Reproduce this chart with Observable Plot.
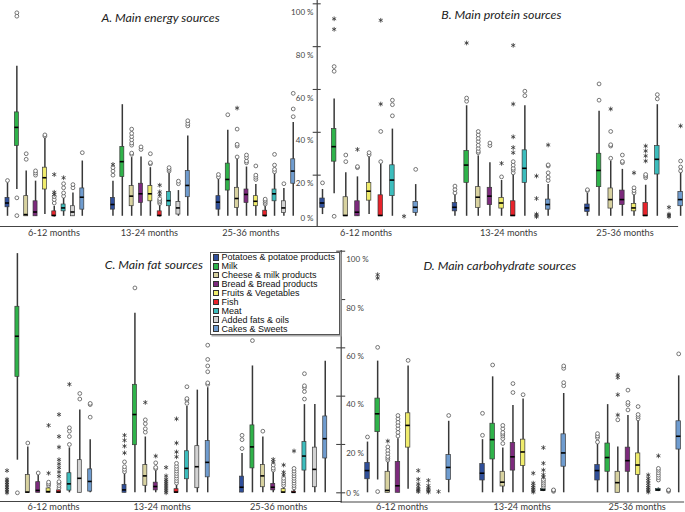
<!DOCTYPE html>
<html><head><meta charset="utf-8">
<script src="https://cdn.jsdelivr.net/npm/d3@7"></script>
<script src="https://cdn.jsdelivr.net/npm/@observablehq/plot@0.6"></script>
<style>
body{margin:0;background:#fff;}
#chart{position:relative;width:685px;height:512px;overflow:hidden;background:#fff;font-family:Lato,sans-serif;}
#chart svg{position:absolute;}
.legend{position:absolute;left:210px;top:252px;width:130px;height:83px;border:1px solid #555;background:#fff;box-shadow:1.5px 1.5px 0 #aaa;font-family:"Liberation Sans",Arial,sans-serif;font-size:9px;color:#111;padding:0 0 0 1.5px;box-sizing:border-box;}
.legend div{display:flex;align-items:center;height:8.9px;white-space:nowrap;}
.legend span.sw{width:6.5px;height:6.5px;border:1px solid #333;margin-right:2.5px;box-sizing:border-box;flex:none;}
</style></head>
<body><div id="chart"></div>
<script>
const categories = ["Potatoes & potatoe products","Milk","Cheese & milk products","Bread & Bread products","Fruits & Vegetables","Fish","Meat","Added fats & oils","Cakes & Sweets"];
const ageGroups = ["6-12 months","13-24 months","25-36 months"];
const categoryColors = ["#2f4f9b","#2fb34a","#d8d2a0","#7d2a7d","#f0ec6c","#e8232b","#3cbdbd","#d3d3d3","#6f9ccf"];
const yTicks = [0,20,40,60,80,100];

// [low whisker, Q1, median, Q3, high whisker] in % ; rows: age group, then category
const energyBoxes = [
 [[0.8,5.0,7.0,9.4,16.4],[13.3,33.6,42.3,49.3,70.9],[0.8,0.8,1.6,10.2,21.9],[0.8,0.8,2.8,7.8,17.2],[1.6,13.3,18.8,23.5,37.6],[0.5,0.8,1.2,3.1,5.5],[0.8,3.1,4.7,6.3,9.4],[0.8,0.8,2.8,5.5,11.7],[0.8,3.9,9.7,13.8,26.6]],
 [[0.8,3.9,6.3,9.4,17.2],[0.8,19.1,26.3,33.2,52.9],[0.8,5.5,10.2,14.9,28.2],[0.8,7.0,11.3,16.0,28.5],[0.8,7.8,11.3,14.9,23.5],[0.5,0.8,1.2,3.1,6.0],[0.8,5.5,8.1,12.2,21.6],[0.8,1.6,4.7,7.5,12.8],[0.8,9.7,15.2,21.9,38.3]],
 [[0.8,3.9,7.4,10.2,18.0],[0.8,12.8,18.0,25.4,41.0],[0.8,4.7,9.1,14.1,27.4],[0.8,7.0,11.0,13.3,23.8],[0.8,5.5,7.8,10.2,15.6],[0.5,0.8,1.2,3.4,6.0],[0.8,7.8,11.3,13.3,21.1],[0.8,2.3,4.7,7.8,13.8],[0.8,16.0,21.9,27.4,44.6]]
];
const energyCircles = [
 [0,0,[17.5]],[0,1,[95.8,94.2,9.4,1.1]],[0,2,[27.4,30]],[0,3,[20,21,22]],[0,4,[38.2,38.8]],[0,5,[7,8.6,10]],[0,6,[10.2,11.7,14.1,16]],[0,7,[14.1,15.6]],[0,8,[30.5]],
 [1,0,[20,21.9,23.5]],[1,2,[29.7,30.3,34,35,36.5,38,39.5,41.5]],[1,3,[32,33.2]],[1,4,[25.3,25.8,30]],[1,5,[6.8,7.5,8.2,9]],[1,6,[21.9,22.7,23.5]],[1,7,[16,17.2]],[1,8,[43,44.1,45.4]],
 [2,0,[19.1,20.3]],[2,1,[48.2]],[2,2,[28.5,33.6,34.4,41.5]],[2,3,[25.8,26.6,28.2,29.4]],[2,4,[18,19,20,24.3]],[2,5,[6.5,7.3,8.1,8.8]],[2,6,[21.6,22.7,24.7,29.7]],[2,7,[16]],[2,8,[47.3,50.9,58.2]]
];
const energyStars = [[0,5,[11,12,20.3]],[0,6,[18.8]],[1,0,[25]],[1,5,[10.8,12.2,15.3]],[2,2,[51.3]]];

const proteinBoxes = [
 [[1.6,4.7,7.0,9.1,13.3],[11.3,26.3,33.3,41.5,55.6],[0.8,0.8,1.2,9.7,21.1],[0.8,0.8,2.7,7.8,19.2],[1.6,8.1,12.5,16.4,28.5],[0.8,0.8,1.2,10.6,25.0],[0.8,10.2,17.7,24.6,41.5],null,[0.8,2.3,5.0,7.5,15.6]],
 [[0.8,3.1,5.0,7.0,11.0],[0.8,16.4,24.7,31.3,52.4],[0.8,4.7,9.7,14.4,29.0],[0.8,6.0,10.2,14.1,25.8],[0.8,4.4,7.0,9.4,17.5],[0.8,0.8,1.2,7.8,20.3],[0.8,16.4,23.2,31.6,52.4],null,[0.8,3.9,6.3,8.6,15.6]],
 [[0.8,2.8,4.7,6.3,11.5],[0.8,14.4,22.2,30.0,49.8],[0.8,4.4,8.6,13.8,26.6],[0.8,6.0,8.6,12.8,22.7],[0.8,3.1,4.7,6.6,11.0],[0.8,0.8,1.2,7.0,15.3],[0.8,20.3,27.4,33.6,52.9],null,[0.8,5.5,8.6,12.2,21.1]]
];
const proteinCircles = [
 [0,0,[16.4]],[0,1,[0.8,68.5,70.7]],[0,2,[26.3,29.4]],[0,3,[23.5,24]],[0,4,[29.5,30.5]],[0,5,[26.3,40.4]],[0,6,[47.7,52.9,55]],[0,8,[22.7]],
 [1,0,[11.7,13.3,14.9]],[1,1,[54.5,56]],[1,2,[30.5,31.2,32.5,34,35.7,37.2,38.8,40.4]],[1,3,[33.8,35]],[1,4,[19.2]],[1,5,[21.1,22.4,23.2,24.7,26.3]],[1,6,[57.1,59.2]],[1,8,[17.5,19.1,21.1,24.3,24.8]],
 [2,0,[12.8,13.2]],[2,1,[55,62.6]],[2,2,[27.9,33.6,34.2,40.4]],[2,3,[25.8,26.4,29.4]],[2,4,[11.7,12.8,14.1]],[2,5,[18.8,19.6,20.3]],[2,6,[55.6,57.6]],[2,8,[22,23.8,26.6]]
];
const proteinStars = [
 [0,1,[88.1,93]],[0,3,[32]],[0,5,[53.2,92.3]],[0,7,[0.8]],
 [1,1,[81.7]],[1,4,[25.5]],[1,5,[30.5,32.9,37.9,53.2,80.6]],[1,7,[0.6,1.2,1.8,9.1,19.6]],[1,8,[34.1]],
 [2,2,[50.9]],[2,4,[21.1]],[2,5,[26.6,29,31.3,33.6]],[2,7,[0.6,1.2,1.8,5]],[2,8,[43]]
];

const fatBoxes = [
 [null,[13.5,48,64.8,77,99],[0,0,0.3,7.4,19],[0,0,1,4.4,7.2],[0,0,0.5,1.8,2.5],[0,0,0.3,1,1.5],[0,0.9,3.7,8.1,18.6],[0,0,6,13.5,34.3],[0,0.5,4.7,9.7,22]],
 [[0,0,1.2,3.3,8],[0,19.7,32.4,44.7,74.3],[0,2.9,7,11.5,23.1],[0,1,2.6,4.2,9.4],null,[0,0,0.3,1.5,3.5],[0,5.6,10.1,17.2,35.7],[0,1.9,10.8,19.3,42.5],[0,6.4,12.6,21.4,43.5]],
 [[0,0.1,2.3,6.7,16.3],[0,10.1,19,27.9,52.5],[0,2.3,7,11.5,23.1],[0,1,2.3,3.7,8.5],[0,0,0.3,1.5,2.5],[0,0,0.2,0.5,1.5],[0,9.2,15.2,21,36.5],[0,2.3,9.7,18.7,36.5],[0,14.2,22.4,31.6,54.5]]
];
const fatCircles = [
 [0,1,[0]],[0,2,[20.6]],[0,3,[8.2]],[0,4,[3,3.7,4.4]],[0,5,[2,3,4,4.6]],[0,6,[20,23.3,25.5,26.9]],[0,7,[38.8,41.1]],[0,8,[31.3,36.5,37]],
 [1,0,[8.7,9.7,10.8,12.8]],[1,1,[84.8]],[1,2,[25.1,26.5,28.6,30.2]],[1,3,[10,10.5,12.4]],[1,5,[4,5,6,7,8,9,10,11,12.2]],[1,6,[37,38.4,39,43.9]],[1,8,[44.9,45.5,50.1,52.5,55.2,61.1]],
 [2,0,[18.3,22,23.8]],[2,1,[63]],[2,2,[25.5]],[2,3,[9.4,10.2,11.5]],[2,4,[3,4,5,6]],[2,5,[2,3,4,5,6,7,8,9,10.1]],[2,6,[38.8,41.9,43.5,44.3,49.3]]
];
const fatStars = [
 [0,0,[0,0.7,1.4,2.1,2.8,3.5,4.2,4.9,5.6,9.2]],[0,4,[8.1,27.9]],[0,5,[6.8,8.6,10.4,12,13.7,18.9,23.3,32.4]],[0,6,[44.9]],
 [1,0,[16.5,19.3,21.7,23.8]],[1,2,[37.4]],[1,3,[15.2]],[1,4,[0,0.8,1.6,2.4,3.2,4,4.8,5.6,7,10.5]],[1,5,[14.9,16.9,20.6,30.6]],
 [2,3,[12.8,13.8]],[2,4,[7.4,8.5,11.5]],[2,5,[17.3]]
];

const carbBoxes = [
 [[0,5.6,9.2,12.4,21],[5.3,25.1,32.7,39,54.5],[0,0,1,8.7,13],[0,0,2.9,12.8,22.4],[1.5,18.7,27.9,32.9,52.5],null,null,null,[0,5.3,10.5,15.6,29.6]],
 [[0,5.1,8.1,11.9,22],[0,13.8,22,28.6,48],[0,2.6,4.4,8.7,18.5],[0,9.2,14.9,20.6,36.1],[0,11.1,16.9,22,38.8],null,[0.5,0.8,1.2,1.6,2],null,[0,10.8,16.5,24.2,41.1]],
 [[0,5.1,9.2,11.5,20],[0,8.7,14.6,20.4,36.5],[0,0,4.2,8.7,19],[0,8.7,13.3,18.7,32],[0,7.4,11.5,16.3,30],null,[0.5,0.8,1.2,1.6,2],null,[0,17.9,23.4,29.6,48.4]]
];
const carbCircles = [
 [0,0,[23.1]],[0,1,[0.5,60.2]],[0,2,[13.5,14.3,15,16.3,17.6,19]],[0,3,[23.5,25,26.5,27.9,29.2,30.6,32]],[0,4,[54.8]],[0,8,[32]],
 [1,0,[23.8,32.9]],[1,1,[52.9]],[1,2,[20.4,22.4,23.5,24.3,25,26.5,27.9]],[1,3,[41.5,45.2]],[1,4,[40.6]],[1,6,[2.5,3.2,4,4.8,5.5]],[1,7,[0.6,1,1.2]],[1,8,[44.3,45.6,51.5,52.5]],
 [2,0,[21,22.8,23.5,24.5]],[2,2,[30.2]],[2,3,[34.3,36.5,37.4,42.5]],[2,4,[30.6,31.6,32.4,35.7]],[2,6,[5.3,6.3,7.3,8.3,9.3,10.1]],[2,7,[0.6,1,1.2]],[2,8,[57.5]]
];
const carbStars = [
 [0,1,[88.9,90.3]],[0,2,[21.4]],[0,5,[0.5,1,1.5,2.5,3.7,5.6,9.2]],[0,6,[0.3,0.8,1.4,2,3,5.1]],[0,7,[0.5]],
 [1,5,[0.3,0.8,1.5,2.2,3,4,8.1]],[1,6,[6.5,7.5,9.4,12.2,18.7]],
 [2,2,[32.2,40.6,47.7,48.8]],[2,5,[0.3,0.8,1.5,2.2,3,4,5,6,7.4]],[2,6,[15.3]]
];

function drawPanel(o) {
  const g = o.groupUnits;
  const pos = (a, c) => a * g + c;
  const hw = o.boxPx / 2 / o.step;
  const boxes = [];
  o.boxes.forEach((row, a) => row.forEach((s, c) => {
    if (!s) return;
    const p = pos(a, c);
    boxes.push({p, p1: p - hw, p2: p + hw, low: s[0], q1: s[1], med: s[2], q3: s[3], high: s[4], cat: categories[c]});
  }));
  const flat = list => list.flatMap(([a, c, vals]) => vals.map(v => ({p: pos(a, c), v})));
  const circles = flat(o.circles), stars = flat(o.stars);
  const k = (o.y0 - o.y100) / 100;
  const yDomain = [(o.y0 - (o.height - o.mb)) / k, (o.y0 - o.mt) / k];
  const xDomain = [(o.ml - o.x0) / o.step, (o.width - o.mr - o.x0) / o.step];
  const centers = ageGroups.map((_, a) => pos(a, 4) + o.labelShift[a] / o.step);
  const marks = [
    Plot.frame({anchor: "bottom", stroke: "#444", strokeWidth: 1.2}),
    Plot.ruleX(boxes, {x: "p", y1: "low", y2: "high", stroke: "#383838", strokeWidth: 1.5}),
    Plot.rect(boxes, {x1: "p1", x2: "p2", y1: "q1", y2: "q3", fill: "cat", stroke: "#3a3a3a", strokeWidth: 0.7}),
    Plot.ruleY(boxes, {x1: "p1", x2: "p2", y: "med", stroke: "#000", strokeWidth: 1.6}),
    Plot.dot(circles, {x: "p", y: "v", r: 1.9, fill: "white", stroke: "#555", strokeWidth: 0.8}),
    Plot.dot(stars, {x: "p", y: "v", r: 2.2, symbol: "asterisk", stroke: "#333", strokeWidth: 0.8}),
    Plot.axisX({ticks: centers, tickSize: 0, tickPadding: o.labelPad, tickFormat: d => ageGroups[Math.round((d - 4) / g)], fontSize: 9.2, fill: "#3a3a3a"}),
    Plot.text([o.title], {text: d => d, frameAnchor: "top", dx: o.titleDx, dy: o.titleDy, fontSize: 12.4, fontStyle: "italic", fill: "#222"})
  ];
  if (o.axis) {
    const left = o.axis === "left";
    marks.push(
      Plot.frame({anchor: "left", stroke: "#444", strokeWidth: 1.2}),
      Plot.axisY({ticks: o.tickValues, tickSize: o.tickLen, dx: o.tickLen / 2, tickFormat: () => "", stroke: "#444", strokeWidth: 1.1}),
      Plot.text(yTicks.slice(1), {y: d => d, text: d => d + " %", frameAnchor: "left", textAnchor: left ? "end" : "start", dx: left ? -3.7 : 5, dy: 8.5, fontSize: 8, fill: "#444"}),
      Plot.text(yTicks.slice(0, 1), {y: d => d, text: d => d + " %", frameAnchor: "left", textAnchor: left ? "end" : "start", dx: left ? -3.7 : 5, dy: 0.5, fontSize: 8, fill: "#444"})
    );
  }
  const svg = Plot.plot({
    width: o.width, height: o.height,
    marginLeft: o.ml, marginRight: o.mr, marginTop: o.mt, marginBottom: o.mb,
    x: {domain: xDomain, label: null},
    y: {domain: yDomain, label: null, axis: o.axis ? undefined : null},
    color: {domain: categories, range: categoryColors},
    style: {fontFamily: "Lato, sans-serif", background: "transparent", overflow: "visible"},
    marks
  });
  svg.style.left = o.left + "px";
  svg.style.top = o.top + "px";
  document.getElementById("chart").appendChild(svg);
}

drawPanel({title: "A. Main energy sources", boxes: energyBoxes, circles: energyCircles, stars: energyStars,
  left: 0, top: 0, width: 317, height: 250, ml: 0, mr: 0, mt: 0, mb: 24,
  x0: 7, step: 9.35, groupUnits: 11.28, y0: 217.5, y100: 3.3, boxPx: 4, labelPad: 3, labelShift: [9, -1, -5], titleDx: 1.5, titleDy: 12.5});
drawPanel({title: "B. Main protein sources", boxes: proteinBoxes, circles: proteinCircles, stars: proteinStars,
  left: 280, top: 0, width: 405, height: 250, ml: 36.7, mr: 8, mt: 0, mb: 24,
  x0: 42, step: 11.65, groupUnits: 11.37, y0: 217.5, y100: 3.3, boxPx: 4.5, labelPad: 3, labelShift: [-3, 7, -9], titleDx: 4, titleDy: 10,
  axis: "left", tickValues: [20,40,60,80,100], tickLen: 8});
drawPanel({title: "C. Main fat sources", boxes: fatBoxes, circles: fatCircles, stars: fatStars,
  left: 0, top: 250, width: 341, height: 262, ml: 0, mr: 0.3, mt: 0, mb: 11,
  x0: 6.5, step: 10.4, groupUnits: 11.3, y0: 242.3, y100: 0.7, boxPx: 4, labelPad: 1.5, labelShift: [5, -4, -5], titleDx: -17, titleDy: 10});
drawPanel({title: "D. Main carbohydrate sources", boxes: carbBoxes, circles: carbCircles, stars: carbStars,
  left: 300, top: 250, width: 385, height: 262, ml: 40.7, mr: 2, mt: 0, mb: 10.5,
  x0: 67, step: 10.15, groupUnits: 11.33, y0: 242.3, y100: 0.7, boxPx: 4.5, labelPad: 1.5, labelShift: [-6, -1, -1], titleDx: -12.5, titleDy: 10.5,
  axis: "right-labels", tickValues: yTicks, tickLen: 9});

const legend = document.createElement("div");
legend.className = "legend";
categories.forEach((c, i) => {
  const row = document.createElement("div");
  const sw = document.createElement("span");
  sw.className = "sw";
  sw.style.background = categoryColors[i];
  row.appendChild(sw);
  row.appendChild(document.createTextNode(c));
  legend.appendChild(row);
});
document.getElementById("chart").appendChild(legend);
</script></body></html>
